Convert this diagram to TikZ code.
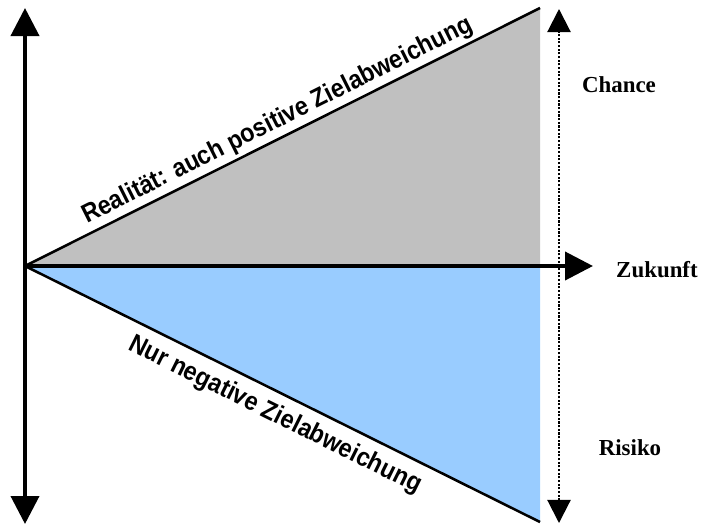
\documentclass[tikz,border=0pt]{standalone}
\usepackage{fontspec}
\setmainfont{Liberation Serif}
\newfontfamily\arialfont{Liberation Sans}
\usetikzlibrary{arrows.meta}
\definecolor{chancegrau}{HTML}{C0C0C0}
\definecolor{risikoblau}{HTML}{99CCFF}
\newcommand{\schmal}[1]{\scalebox{0.9}[1]{#1}}

\begin{document}
\begin{tikzpicture}[>={Triangle[width=0.7cm,length=0.7cm]},
    achse/.style={line width=2.8pt},
    rand/.style={line width=1.8pt},
    punktlinie/.style={line width=1.5pt, dash pattern=on 1.5pt off 1.1pt,
        {Triangle[width=0.58cm,length=0.58cm]}-{Triangle[width=0.58cm,length=0.58cm]}},
    seite/.style={font=\bfseries\fontsize{16.3}{18}\selectfont},
    schraeg/.style={font=\arialfont\bfseries\fontsize{18.5}{20}\selectfont, anchor=base, inner sep=0pt}]

    \useasboundingbox (-0.625,-6.475) rectangle (16.925,6.65);

    \coordinate (O) at (0,0);
    \coordinate (CO) at (12.875,6.45);
    \coordinate (CM) at (12.875,0);
    \coordinate (RU) at (12.875,-6.4);

    % Flaechen: oben Chance, unten Risiko
    \fill[chancegrau] (O) -- (CO) -- (CM) -- cycle;
    \fill[risikoblau] (O) -- (CM) -- (RU) -- cycle;
    \draw[rand] (O) -- (CO);
    \draw[rand] (O) -- (RU);

    \node[schraeg, rotate=26.61] (real) at (6.388,3.48) {\schmal{Realität: auch positive Zielabweichung}};
    \node[schraeg, rotate=-26.43] (negativ) at (6.18,-3.882) {\schmal{Nur negative Zielabweichung}};

    % Achsen
    \coordinate (oben) at (0,6.45);
    \coordinate (unten) at (0,-6.45);
    \coordinate (rechts) at (14.2,0);
    \draw[achse, <->] (unten) -- (oben);
    \draw[achse, ->] (O) -- (rechts);

    \coordinate (po) at (13.35,6.425);
    \coordinate (pu) at (13.35,-6.425);
    \draw[punktlinie] (pu) -- (po);

    \node[seite] (chance) at (14.85,4.525) {Chance};
    \node[seite] (zukunft) at (15.8,-0.1) {Zukunft};
    \node[seite] (risiko) at (15.125,-4.55) {Risiko};

\end{tikzpicture}
\end{document}
